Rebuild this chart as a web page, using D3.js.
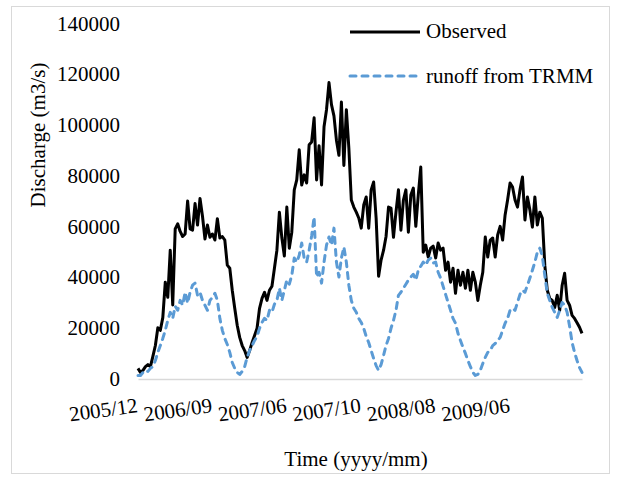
<!DOCTYPE html>
<html>
<head>
<meta charset="utf-8">
<script src="https://cdn.jsdelivr.net/npm/d3@7/dist/d3.min.js"></script>
<style>
  body { margin: 0; background: #fff; }
  svg { display: block; }
  text { font-family: "Liberation Serif", "Times New Roman", serif; fill: #000; }
</style>
</head>
<body>
<svg id="chart" width="618" height="482"></svg>
<script>
// Discharge series (m3/s), one value per time step
const observed = [
  4000, 2400, 3200, 4700, 5500, 4700, 8700, 13000, 20000, 19000,
  24000, 38000, 32000, 50600, 29000, 59000, 61000, 58000, 56000, 57000,
  70000, 59000, 58500, 69000, 60500, 71000, 64000, 55000, 60500, 55700,
  57000, 54600, 63000, 55400, 56000, 54600, 44700, 43500, 34800, 27700,
  21000, 16200, 13000, 11000, 8300, 11000, 14200, 17000, 19800, 27700,
  31600, 34000, 30800, 34800, 36400, 43500, 50600, 65600, 55400, 48300,
  67600, 51400, 57700, 74400, 78300, 90200, 76300, 80300, 77100, 92200,
  93300, 102800, 78300, 91800, 76300, 99300, 106000, 116700, 108000, 103600,
  94000, 88000, 109000, 84000, 106000, 91000, 70400, 67600, 65600, 63300,
  59300, 68400, 71600, 59300, 74400, 77500, 63300, 40300, 46700, 50600,
  56000, 67600, 67200, 55700, 65600, 74400, 58500, 70400, 74400, 57700,
  72400, 75100, 60000, 72400, 83400, 49800, 52600, 47900, 51400, 52200,
  47500, 53400, 50600, 51400, 42700, 45900, 38000, 43500, 33600, 42700,
  36800, 41900, 35600, 42700, 34800, 41900, 38000, 30800, 36800, 41900,
  55800, 47900, 54600, 55400, 47900, 56600, 60000, 54600, 64500, 70400,
  77100, 75500, 70400, 67600, 74400, 79500, 62500, 71600, 66400, 59700,
  71600, 60500, 65600, 63300, 44700, 34800, 31600, 30800, 28000, 32800,
  26900, 36800, 41500, 30800, 28900, 24900, 23700, 22000, 20200, 17800
];

const runoffTRMM = [
  1200, 1200, 2400, 3200, 2800, 4000, 4700, 7100, 10300, 13000,
  15800, 19000, 22900, 26100, 23700, 28500, 26900, 30800, 28900, 34000,
  29700, 34000, 36800, 37600, 32800, 34000, 30800, 28900, 26900, 30800,
  32000, 33600, 30800, 23700, 19000, 15800, 13400, 10300, 6300, 4000,
  2400, 1600, 2800, 4700, 8300, 11000, 13000, 15000, 16600, 19800,
  22100, 23700, 22900, 26900, 26100, 29300, 30800, 35600, 30800, 34800,
  38800, 37200, 40700, 47500, 45900, 48600, 53400, 47500, 45900, 50600,
  56200, 63700, 40000, 41900, 37600, 45900, 52600, 55800, 52600, 59300,
  45900, 40000, 47500, 51800, 45900, 36800, 30800, 27700, 26100, 23700,
  22100, 19800, 16600, 14200, 11000, 7900, 5100, 3200, 5500, 9100,
  13000, 15800, 19800, 22900, 26900, 32800, 34000, 35600, 37200, 38800,
  40000, 41100, 38800, 42700, 44300, 45900, 44700, 46700, 47500, 45500,
  45900, 41900, 39600, 36400, 33200, 30000, 26900, 23700, 21800, 17800,
  15000, 12300, 9900, 7100, 4700, 2400, 1200, 1600, 3200, 5900,
  8300, 10300, 11000, 13000, 13800, 15000, 16200, 19000, 21800, 23700,
  26900, 27700, 26900, 30000, 33200, 34800, 34000, 36800, 39600, 42700,
  45900, 49800, 51400, 48300, 40700, 33600, 30800, 28100, 26100, 24100,
  26900, 30000, 28900, 26100, 20600, 14200, 10300, 7100, 4300, 2400
];

// Labelled time steps on the category axis
const dateLabels = ["2005/12", "2006/09", "2007/06", "2007/10", "2008/08", "2009/06"];
const labelIndex = [0, 30, 60, 90, 120, 150];
const yTicks = [0, 20000, 40000, 60000, 80000, 100000, 120000, 140000];

const seriesNames = ["Observed", "runoff from TRMM"];

const svg = d3.select("#chart");
const FONT = "21px";

// chart frame
svg.append("rect")
  .attr("x", 11.5).attr("y", 6.5)
  .attr("width", 598).attr("height", 467)
  .attr("fill", "none").attr("stroke", "#d9d9d9").attr("stroke-width", 1);

const x = d3.scalePoint().domain(d3.range(observed.length)).range([138, 582]);
const y = d3.scaleLinear().domain([0, 140000]).range([378.5, 23.5]);

// y axis (labels only)
const gy = svg.append("g")
  .attr("transform", "translate(138,0)")
  .call(d3.axisLeft(y).tickValues(yTicks).tickSize(0).tickPadding(18).tickFormat(d3.format("d")));
gy.select(".domain").remove();
gy.selectAll("text").style("font-size", FONT).attr("font-family", null);

// x axis
const gx = svg.append("g")
  .attr("transform", "translate(0,379)")
  .call(d3.axisBottom(x).tickValues(labelIndex).tickSize(0).tickSizeOuter(0)
    .tickFormat(d => dateLabels[labelIndex.indexOf(d)]));
gx.select(".domain").attr("stroke", "#d9d9d9").attr("stroke-width", 1.5);
gx.selectAll("text")
  .style("font-size", FONT).attr("font-family", null)
  .attr("text-anchor", "end")
  .attr("x", 0).attr("y", 0).attr("dy", null)
  .attr("transform", "translate(0,33) rotate(-8)");

// series
const line = d3.line().x((d, i) => x(i)).y(d => y(d));

svg.append("path")
  .datum(observed)
  .attr("d", line)
  .attr("fill", "none")
  .attr("stroke", "#000")
  .attr("stroke-width", 3)
  .attr("stroke-linejoin", "round");

svg.append("path")
  .datum(runoffTRMM)
  .attr("d", line)
  .attr("fill", "none")
  .attr("stroke", "#5b9bd5")
  .attr("stroke-width", 3)
  .attr("stroke-linejoin", "round")
  .attr("stroke-linecap", "round")
  .attr("stroke-dasharray", "6,6");

// axis titles
svg.append("text")
  .attr("transform", "translate(45,135) rotate(-90)")
  .attr("text-anchor", "middle")
  .style("font-size", FONT)
  .text("Discharge (m3/s)");

svg.append("text")
  .attr("x", 356).attr("y", 466)
  .attr("text-anchor", "middle")
  .style("font-size", FONT)
  .text("Time (yyyy/mm)");

// legend
const legend = svg.append("g");
const legendRows = [
  { name: seriesNames[0], color: "#000", dash: null, cap: "butt", ly: 32, ty: 38 },
  { name: seriesNames[1], color: "#5b9bd5", dash: "6,6", cap: "round", ly: 76, ty: 83 }
];
legendRows.forEach(r => {
  legend.append("line")
    .attr("x1", 350).attr("x2", 420)
    .attr("y1", r.ly).attr("y2", r.ly)
    .attr("stroke", r.color).attr("stroke-width", 3)
    .attr("stroke-linecap", r.cap)
    .attr("stroke-dasharray", r.dash);
  legend.append("text")
    .attr("x", 426).attr("y", r.ty)
    .style("font-size", FONT)
    .text(r.name);
});
</script>
</body>
</html>
